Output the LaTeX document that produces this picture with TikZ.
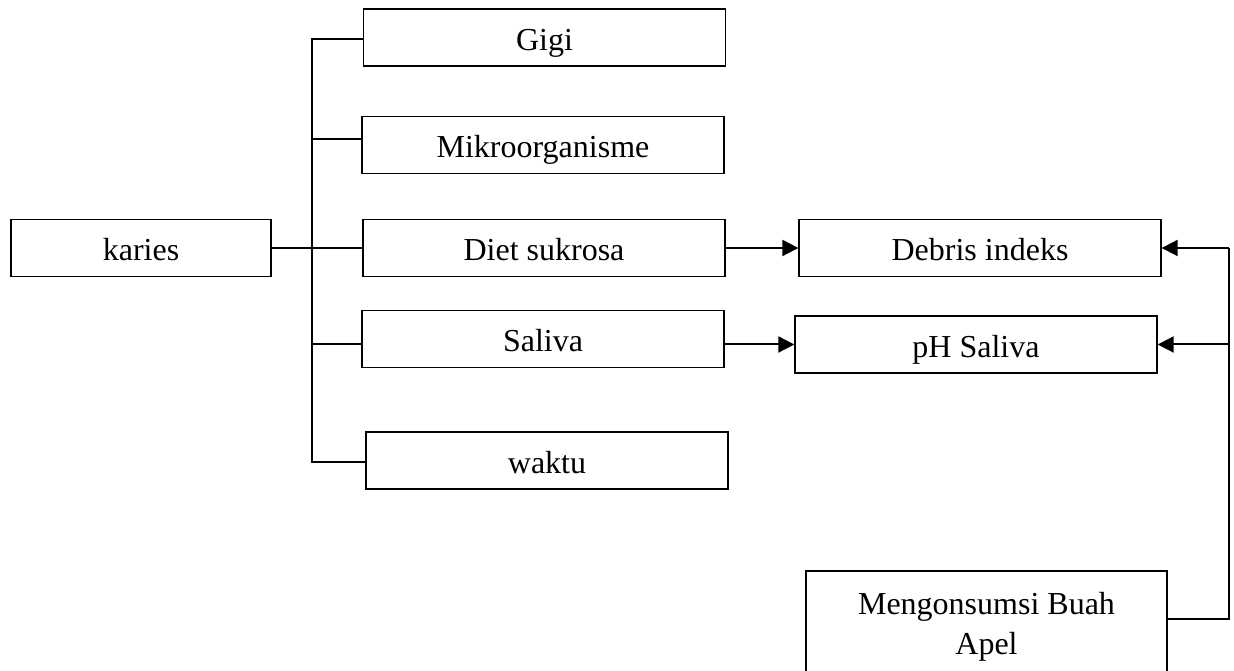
\documentclass[tikz,border=0pt]{standalone}
\usepackage{fontspec}
\setmainfont{Liberation Serif}
\usetikzlibrary{arrows.meta}

\begin{document}
\begin{tikzpicture}[
    x=0.375pt, y=-0.375pt,
    box/.style={draw, line width=0.5pt, minimum width=135.75pt, minimum height=21.4pt,
                inner sep=0pt, text height=10.5pt, text depth=0.9pt,
                font=\fontsize{12}{15}\selectfont},
    link/.style={line width=0.65pt},
    arr/.style={line width=0.75pt, -{Triangle[length=6pt,width=6pt]}}]

  \clip (0,0) rectangle (1234,671);

  \node[box, minimum width=97.5pt] (karies) at (141,248) {karies};
  \coordinate (hub) at (312,248);
  \draw[link] (karies.east) -- (hub);

  \foreach \n/\x/\y/\s/\txt in {%
    gigi/544.5/37.5/-0.56/Gigi,
    mikro/543/145/2.25/Mikroorganisme,
    diet/544/248/0/{Diet sukrosa},
    saliva/543/339/-1.9/Saliva,
    waktu/547/460.5/-0.56/waktu}
  {
    \node[box] (\n) at (\x,\y) {\txt};
    \draw[link] ([yshift=\s pt]\n.west) -| (hub);
  }

  \node[box] (debris) at (980,248) {Debris indeks};
  \node[box] (ph) at (976,344.5) {pH Saliva};
  \node[box, text height={}, text depth={}, minimum width=135.4pt, minimum height=42pt,
        align=center] (apel) at (986.5,627) {Mengonsumsi Buah\\Apel};
  \coordinate (rhub) at (1229,248);

  \draw[arr] (diet.east) -- (debris.west);
  \draw[arr] (saliva.east |- ph.west) -- (ph.west);
  \draw[link] ([yshift=3pt]apel.east) -| (rhub);
  \draw[arr] (rhub) -- (debris.east);
  \draw[arr] (rhub |- ph.east) -- (ph.east);
\end{tikzpicture}
\end{document}
